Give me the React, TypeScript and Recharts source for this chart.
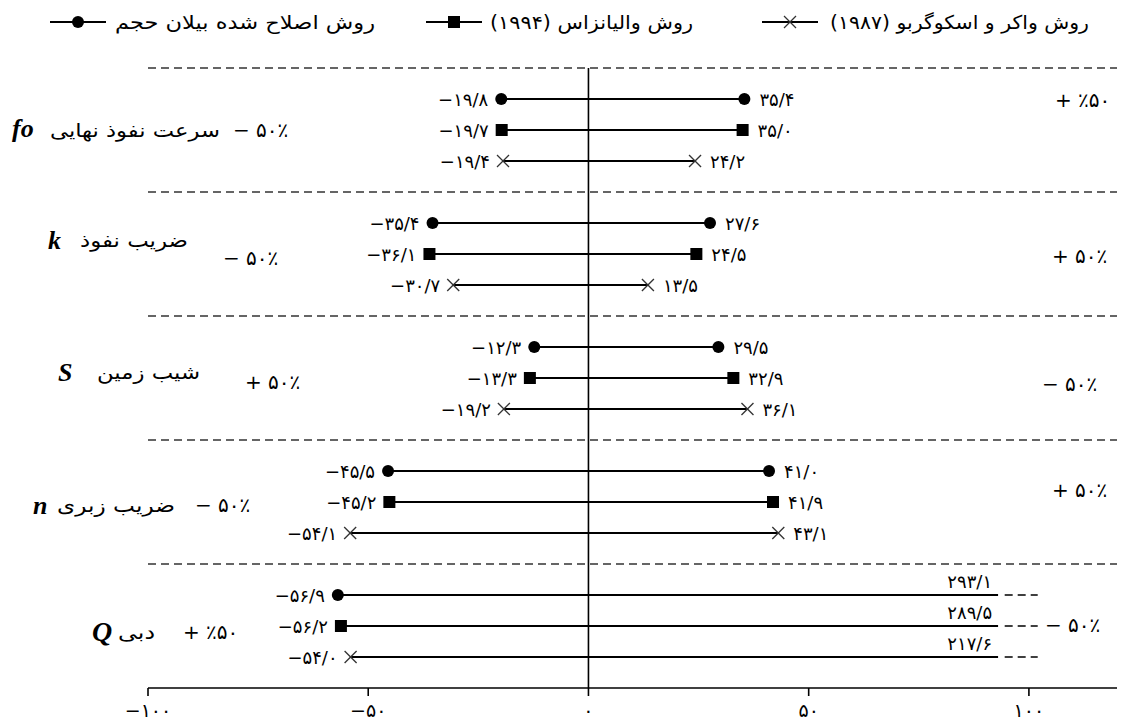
import React from "react";
import { ScatterChart, Scatter, XAxis, YAxis, ReferenceLine, ReferenceDot, Legend } from "recharts";

const parameters = ["fo", "k", "S", "n", "Q"];
const parameterNames = ["سرعت نفوذ نهایی", "ضریب نفوذ", "شیب زمین", "ضریب زبری", "دبی"];
const leftChange = ["− ۵۰٪", "− ۵۰٪", "+ ۵۰٪", "− ۵۰٪", "+ ٪۵۰"];
const rightChange = ["+ ٪۵۰", "+ ۵۰٪", "− ۵۰٪", "+ ۵۰٪", "− ۵۰٪"];

const methodNames = [
  "روش اصلاح شده بیلان حجم",
  "روش والیانزاس (۱۹۹۴)",
  "روش واکر و اسکوگربو (۱۹۸۷)",
];

// percent change of runoff for each parameter, per method
const volumeBalanceMin = [-19.8, -35.4, -12.3, -45.5, -56.9];
const volumeBalanceMax = [35.4, 27.6, 29.5, 41.0, 293.1];
const walenMin = [-19.7, -36.1, -13.3, -45.2, -56.2];
const walenMax = [35.0, 24.5, 32.9, 41.9, 289.5];
const walkerMin = [-19.4, -30.7, -19.2, -54.1, -54.0];
const walkerMax = [24.2, 13.5, 36.1, 43.1, 217.6];

const xTicks = [-100, -50, 0, 50, 100];

// values beyond this are cut and continued with a short dashed stub
const axisCap = 93;
const breakEnd = 102;

const FA_FONT = "'DejaVu Sans', sans-serif";
const SYMBOL_FONT = "'Liberation Serif', 'DejaVu Serif', serif";

const faDigits = "۰۱۲۳۴۵۶۷۸۹";
const toFa = (s: string) => s.replace(/[0-9]/g, (d) => faDigits[Number(d)]);
const fmtValue = (v: number) => (v < 0 ? "−" : "") + toFa(Math.abs(v).toFixed(1)).replace(".", "/");
const fmtTick = (v: number) => (v < 0 ? "−" : "") + toFa(String(Math.abs(v)));

const methods = [
  { key: "circle", min: volumeBalanceMin, max: volumeBalanceMax },
  { key: "square", min: walenMin, max: walenMax },
  { key: "cross", min: walkerMin, max: walkerMax },
];

type Row = { y: number; method: string; min: number; max: number };
const rows: Row[] = [];
parameters.forEach((_, g) => {
  methods.forEach((m, i) => {
    rows.push({ y: g * 4 + i + 1, method: m.key, min: m.min[g], max: m.max[g] });
  });
});

// text offsets (px) relative to the group anchor dot; name has a fixed width
const leftLayout = [
  { sym: [-136, -2], name: [-98, 0, 170], pct: [85, 0], symSize: 26 },
  { sym: [-100, -14], name: [-68, -14, 108], pct: [75, 4], symSize: 26 },
  { sym: [-90, -6], name: [-51, -6, 103], pct: [97, 4], symSize: 26 },
  { sym: [-115, 3], name: [-91, 3, 118], pct: [47, 3], symSize: 26 },
  { sym: [-56, 5], name: [-30, 6, 37], pct: [35, 6], symSize: 28 },
];
const rightLayout = [
  [26, -30],
  [23, 2],
  [13, 6],
  [23, -12],
  [16, -1],
];

function Marker({ kind, cx, cy }: { kind: string; cx: number; cy: number }) {
  if (kind === "circle") return <circle cx={cx} cy={cy} r={6} fill="#000" />;
  if (kind === "square") return <rect x={cx - 6} y={cy - 6} width={12} height={12} fill="#000" />;
  return (
    <g stroke="#333" strokeWidth={1.3}>
      <line x1={cx - 6} y1={cy - 6} x2={cx + 6} y2={cy + 6} />
      <line x1={cx - 6} y1={cy + 6} x2={cx + 6} y2={cy - 6} />
    </g>
  );
}

const valueText = { fontFamily: FA_FONT, fontSize: 18, fill: "#000" };

function PointShape(props: any) {
  const { cx, cy, payload } = props;
  if (cx == null || cy == null) return <g />;
  const label = fmtValue(payload.value);
  if (payload.side === "min") {
    return (
      <g>
        <Marker kind={payload.method} cx={cx} cy={cy} />
        <text x={cx - 13} y={cy} textAnchor="end" dominantBaseline="central" {...valueText}>
          {label}
        </text>
      </g>
    );
  }
  if (payload.cut) {
    return (
      <text x={cx - 6} y={cy - 14} textAnchor="end" dominantBaseline="central" {...valueText}>
        {label}
      </text>
    );
  }
  return (
    <g>
      <Marker kind={payload.method} cx={cx} cy={cy} />
      <text x={cx + 15} y={cy} textAnchor="start" dominantBaseline="central" {...valueText}>
        {label}
      </text>
    </g>
  );
}

function AxisTick(props: any) {
  const { x, y, payload } = props;
  return (
    <text
      x={x}
      y={y + 12}
      textAnchor="middle"
      dominantBaseline="central"
      fontFamily={FA_FONT}
      fontSize={19}
      fill="#000"
    >
      {fmtTick(payload.value)}
    </text>
  );
}

function LeftLabel(g: number) {
  return (props: any) => {
    const { cx, cy } = props;
    const l = leftLayout[g];
    return (
      <g>
        <text
          x={cx + l.sym[0]}
          y={cy + l.sym[1]}
          dominantBaseline="central"
          fontFamily={SYMBOL_FONT}
          fontStyle="italic"
          fontWeight="bold"
          fontSize={l.symSize}
        >
          {parameters[g]}
        </text>
        <text
          x={cx + l.name[0]}
          y={cy + l.name[1]}
          textLength={l.name[2]}
          lengthAdjust="spacingAndGlyphs"
          dominantBaseline="central"
          fontFamily={FA_FONT}
          fontSize={19}
        >
          {parameterNames[g]}
        </text>
        <text
          x={cx + l.pct[0]}
          y={cy + l.pct[1]}
          dominantBaseline="central"
          fontFamily={FA_FONT}
          fontSize={20}
        >
          {leftChange[g]}
        </text>
      </g>
    );
  };
}

function RightLabel(g: number) {
  return (props: any) => {
    const { cx, cy } = props;
    const [dx, dy] = rightLayout[g];
    return (
      <text x={cx + dx} y={cy + dy} dominantBaseline="central" fontFamily={FA_FONT} fontSize={20}>
        {rightChange[g]}
      </text>
    );
  };
}

const legendItems = [
  { kind: "circle", symbolLeft: 50, textLeft: 115, textWidth: 260 },
  { kind: "square", symbolLeft: 426, textLeft: 490, textWidth: 203 },
  { kind: "cross", symbolLeft: 762, textLeft: 830, textWidth: 259 },
];

function ChartLegend() {
  return (
    <svg width={1131} height={40} style={{ display: "block" }}>
      {legendItems.map((it, i) => (
        <g key={it.kind}>
          <line x1={it.symbolLeft} y1={22} x2={it.symbolLeft + 56} y2={22} stroke="#000" strokeWidth={2} />
          <Marker kind={it.kind} cx={it.symbolLeft + 28} cy={22} />
          <text
            x={it.textLeft}
            y={22}
            textLength={it.textWidth}
            lengthAdjust="spacingAndGlyphs"
            dominantBaseline="central"
            fontFamily={FA_FONT}
            fontSize={19}
          >
            {methodNames[i]}
          </text>
        </g>
      ))}
    </svg>
  );
}

export default function App() {
  return (
    <div style={{ width: 1131, height: 725 }}>
      <style>{`body{margin:0}`}</style>
      <ScatterChart width={1131} height={725} margin={{ top: 28, right: 14, left: 148, bottom: 7 }}>
        <Legend verticalAlign="top" height={40} wrapperStyle={{ top: 0, left: 0 }} content={() => <ChartLegend />} />
        <XAxis
          type="number"
          dataKey="x"
          domain={[-100, 120]}
          ticks={xTicks}
          axisLine={{ stroke: "#000", strokeWidth: 1.6 }}
          tickLine={{ stroke: "#000", strokeWidth: 1.6 }}
          tickSize={8}
          height={30}
          tick={<AxisTick />}
        />
        <YAxis type="number" dataKey="y" domain={[0, 20]} reversed hide />
        {[0, 4, 8, 12, 16].map((v) => (
          <ReferenceLine key={v} y={v} stroke="#333" strokeWidth={1.3} strokeDasharray="8 5" />
        ))}
        <ReferenceLine x={0} stroke="#000" strokeWidth={1.6} />
        {rows.map((r, i) => {
          const cut = r.max > axisCap;
          const data = [
            { x: r.min, y: r.y, value: r.min, side: "min", method: r.method },
            { x: cut ? axisCap : r.max, y: r.y, value: r.max, side: "max", method: r.method, cut },
          ];
          return (
            <Scatter
              key={`row-${i}`}
              data={data}
              line={{ stroke: "#000", strokeWidth: 2 }}
              shape={PointShape}
              isAnimationActive={false}
            />
          );
        })}
        {rows
          .filter((r) => r.max > axisCap)
          .map((r, i) => (
            <Scatter
              key={`stub-${i}`}
              data={[
                { x: axisCap + 1.5, y: r.y },
                { x: breakEnd, y: r.y },
              ]}
              line={{ stroke: "#000", strokeWidth: 1.5, strokeDasharray: "8 5" }}
              shape={() => <g />}
              isAnimationActive={false}
            />
          ))}
        {parameters.map((p, g) => (
          <ReferenceDot
            key={`l-${p}`}
            x={-100}
            y={g * 4 + 2}
            r={0}
            ifOverflow="visible"
            shape={LeftLabel(g)}
          />
        ))}
        {parameters.map((p, g) => (
          <ReferenceDot
            key={`r-${p}`}
            x={100}
            y={g * 4 + 2}
            r={0}
            ifOverflow="visible"
            shape={RightLabel(g)}
          />
        ))}
      </ScatterChart>
    </div>
  );
}
